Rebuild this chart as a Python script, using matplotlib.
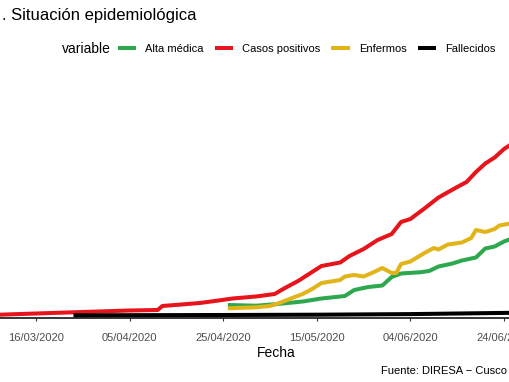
import numpy as np
import pandas as pd
import matplotlib
matplotlib.use("Agg")
import matplotlib.pyplot as plt
import matplotlib.dates as mdates

plt.rcParams["font.family"] = ["Liberation Sans", "DejaVu Sans"]

# values (cases), dates as dd/mm/yyyy
casos_fechas = ["05/03/2020", "16/03/2020", "26/03/2020", "05/04/2020", "11/04/2020",
                "12/04/2020", "20/04/2020", "24/04/2020", "27/04/2020", "02/05/2020",
                "06/05/2020", "08/05/2020", "11/05/2020", "14/05/2020", "16/05/2020",
                "20/05/2020", "22/05/2020", "25/05/2020", "28/05/2020", "31/05/2020",
                "02/06/2020", "04/06/2020", "07/06/2020", "10/06/2020", "14/06/2020",
                "16/06/2020", "18/06/2020", "20/06/2020", "22/06/2020", "24/06/2020",
                "26/06/2020"]
casos = [3, 20, 35, 50, 55, 95, 125, 150, 170, 190, 215, 270, 345, 435, 495,
         530, 595, 665, 755, 815, 935, 965, 1070, 1180, 1285, 1335, 1435, 1520,
         1580, 1665, 1725]

enfermos_fechas = ["26/04/2020", "02/05/2020", "05/05/2020", "07/05/2020", "10/05/2020",
                   "12/05/2020", "14/05/2020", "16/05/2020", "20/05/2020", "21/05/2020",
                   "23/05/2020", "25/05/2020", "27/05/2020", "29/05/2020", "31/05/2020",
                   "01/06/2020", "02/06/2020", "04/06/2020", "07/06/2020", "09/06/2020",
                   "10/06/2020", "12/06/2020", "15/06/2020", "17/06/2020", "18/06/2020",
                   "20/06/2020", "22/06/2020", "23/06/2020", "26/06/2020"]
enfermos = [72, 82, 95, 125, 180, 215, 265, 325, 355, 390, 405, 390, 430, 475,
            425, 425, 515, 540, 625, 675, 660, 710, 730, 775, 855, 835, 865, 900, 925]

alta_fechas = ["26/04/2020", "02/05/2020", "06/05/2020", "12/05/2020", "16/05/2020",
               "21/05/2020", "23/05/2020", "26/05/2020", "29/05/2020", "31/05/2020",
               "02/06/2020", "06/06/2020", "08/06/2020", "10/06/2020", "13/06/2020",
               "15/06/2020", "18/06/2020", "20/06/2020", "22/06/2020", "24/06/2020",
               "26/06/2020"]
alta = [105, 98, 112, 140, 170, 195, 255, 285, 300, 385, 420, 432, 445, 490,
        520, 550, 580, 670, 690, 740, 775]

fallecidos_fechas = ["24/03/2020", "25/04/2020", "15/05/2020", "04/06/2020", "26/06/2020"]
fallecidos = [2, 5, 8, 14, 27]

tick_fechas = ["16/03/2020", "05/04/2020", "25/04/2020", "15/05/2020", "04/06/2020",
               "24/06/2020"]

series = [
    ("Alta médica", alta_fechas, alta, "#2DA84F"),
    ("Casos positivos", casos_fechas, casos, "#E8141B"),
    ("Enfermos", enfermos_fechas, enfermos, "#E1B51A"),
    ("Fallecidos", fallecidos_fechas, fallecidos, "black"),
]


def fechas(lista):
    return pd.to_datetime(lista, format="%d/%m/%Y")


W, H = 510, 382
fig = plt.figure(figsize=(W / 100, H / 100), dpi=100)
# panel is wider than the picture: it is cropped on both sides
left_px, right_px, top_px, bottom_px = -40, 593, 60, 318
ax = fig.add_axes([left_px / W, 1 - bottom_px / H,
                   (right_px - left_px) / W, (bottom_px - top_px) / H])

handles = []
for name, f, v, c in series:
    (ln,) = ax.plot(fechas(f), v, color=c, linewidth=2.9, label=name,
                    solid_capstyle="butt", solid_joinstyle="round")
    handles.append(ln)

base = mdates.date2num(pd.Timestamp("2020-03-16"))
px_day = 4.68
ax.set_xlim(base + (left_px - 36) / px_day, base + (right_px - 36) / px_day)
ax.set_ylim(-25, (315.5 - top_px) * 10)

ticks = fechas(tick_fechas)
ax.set_xticks(ticks)
ax.set_xticklabels([t.strftime("%d/%m/%Y") for t in ticks])
ax.tick_params(axis="x", length=2.5, width=0.8, color="#333333", pad=8,
               labelsize=8, labelcolor="#4D4D4D")
ax.set_yticks([])
for s in ["top", "right", "left"]:
    ax.spines[s].set_visible(False)
ax.spines["bottom"].set_linewidth(1.1)
ax.spines["bottom"].set_color("black")
ax.set_xlabel("Fecha", fontsize=10, labelpad=2.5)

fig.text(2 / W, 1 - 20 / H, ". Situación epidemiológica", fontsize=12,
         va="baseline", ha="left")
fig.text(62 / W, 1 - 49 / H, "variable", fontsize=10, va="center", ha="left")
fig.legend(handles=handles, loc="center left", bbox_to_anchor=(118 / W, 1 - 49 / H),
           ncol=4, frameon=False, fontsize=8, handlelength=1.65, handletextpad=0.8,
           columnspacing=1.0, borderpad=0, borderaxespad=0)
fig.text(381 / W, 1 - 371 / H, "Fuente: DIRESA \u2212 Cusco", fontsize=8,
         va="center", ha="left")

fig.savefig("out.png", dpi=100)
